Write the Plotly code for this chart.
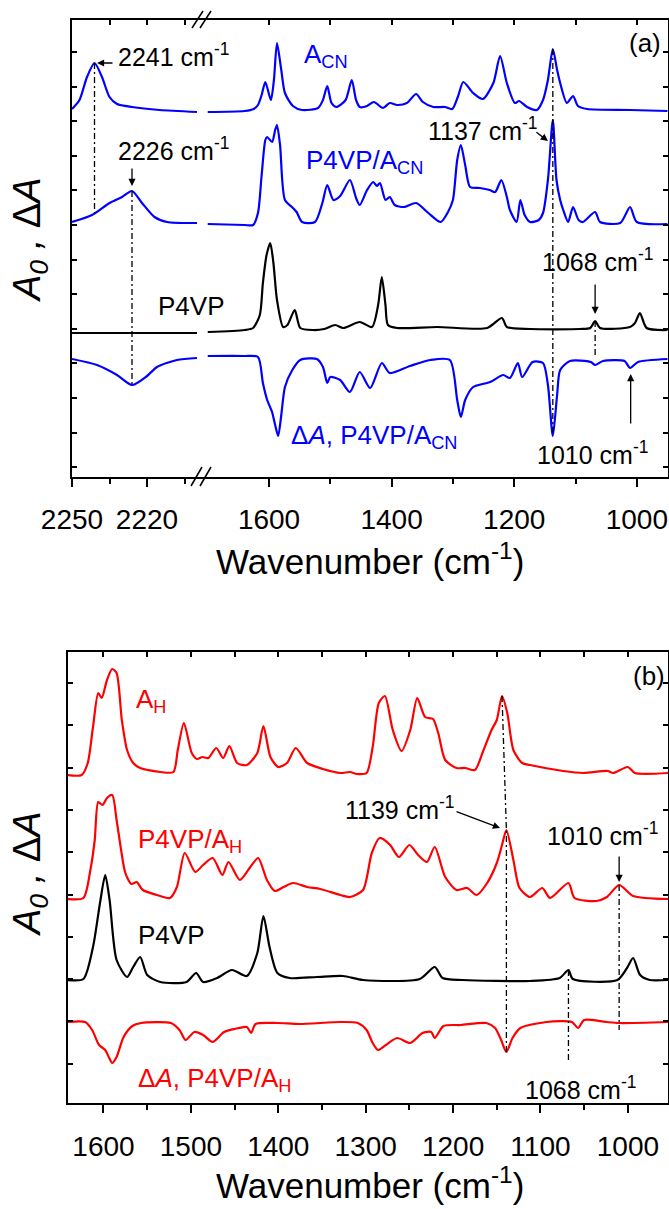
import numpy as np
import plotly.graph_objects as go

W, H = 669, 1209
FONT = "Liberation Sans, Arial, Helvetica, sans-serif"
BLUE = "#0000FF"
RED = "#FF0000"
BLACK = "#000000"

# ===================== Panel (a) =====================
# wavenumber (cm-1) / absorbance (a.u., relative to each spectrum's own baseline)
# --- 2250-2200 cm-1 window ---
ACN_HI_WN = [2250, 2247, 2244, 2241, 2238, 2235, 2232, 2226, 2215, 2200]
ACN_HI = [0.2, 1.1, 3.4, 4.8, 3.4, 1.4, 0.7, 0.4, 0.1, -0.1]
PACN_HI_WN = [2250, 2242, 2235, 2230, 2226, 2222, 2217, 2212, 2200]
PACN_HI = [0.1, 0.8, 2.0, 2.6, 3.2, 2.0, 0.6, 0.1, 0.0]
P4VPA_HI_WN = [2250, 2200]
P4VPA_HI = [0.0, 0.0]
DA_A_HI_WN = [2250, 2240, 2232, 2226, 2220, 2216, 2208, 2200]
DA_A_HI = [-0.1, -0.7, -1.7, -2.7, -1.8, -0.9, -0.2, 0.0]

# --- 1700-950 cm-1 window ---
ACN_WN = [1700, 1640, 1625, 1618, 1612, 1606, 1597, 1592, 1587, 1580,
          1574, 1561, 1546, 1520, 1512, 1505, 1498, 1490, 1475, 1465,
          1458, 1452, 1440, 1429, 1414, 1403, 1391, 1375, 1360, 1349,
          1332, 1313, 1301, 1292, 1283, 1267, 1251, 1234, 1223, 1212,
          1199, 1192, 1179, 1163, 1153, 1145, 1137, 1130, 1125, 1114,
          1104, 1096, 1081, 1011, 950]
ACN = [-0.1, 0.0, 0.2, 0.6, 1.6, 2.9, 1.1, 3.1, 6.8, 4.1,
       1.8, 0.5, 0.1, 0.3, 1.1, 2.5, 0.8, 0.4, 1.1, 3.1,
       1.1, 0.4, 0.5, 0.9, 0.3, 0.8, 0.6, 0.8, 1.7, 0.9,
       0.4, 0.4, 0.2, 1.4, 2.9, 1.8, 1.2, 2.8, 5.5, 2.8,
       0.8, 1.0, 0.4, 0.1, 1.1, 3.1, 6.2, 4.1, 2.8, 0.8,
       1.5, 0.5, 0.2, 0.1, 0.0]

PACN_WN = [1700, 1640, 1626, 1618, 1612, 1606, 1603, 1595, 1590, 1587,
           1582, 1574, 1561, 1555, 1546, 1525, 1513, 1505, 1495, 1484,
           1468, 1458, 1452, 1440, 1430, 1424, 1419, 1410, 1403, 1395,
           1380, 1360, 1340, 1320, 1308, 1300, 1293, 1287, 1280, 1272,
           1256, 1240, 1231, 1221, 1212, 1207, 1196, 1190, 1183, 1174,
           1160, 1153, 1145, 1137, 1131, 1125, 1120, 1112, 1104, 1095,
           1088, 1068, 1060, 1027, 1011, 1000, 950]
PACN = [-0.1, -0.2, -0.2, 1.0, 4.8, 8.3, 8.6, 8.1, 9.3, 9.8,
        7.8, 2.3, 1.5, 1.1, 0.1, 0.1, 2.0, 3.8, 2.3, 2.7,
        4.3, 2.5, 1.8, 3.3, 4.1, 3.7, 4.0, 2.3, 2.6, 1.8,
        1.6, 2.0, 1.0, 0.1, 1.1, 2.3, 6.3, 7.8, 5.8, 3.6,
        3.5, 3.3, 3.1, 4.3, 2.6, 1.3, 0.1, 2.3, 0.8, 0.1,
        0.3, 1.0, 4.3, 10.3, 4.3, 2.3, 1.3, 0.1, 1.6, 0.3,
        0.1, 1.1, 0.1, 0.0, 1.6, 0.1, -0.1]

P4VPA_WN = [1700, 1640, 1626, 1615, 1610, 1604, 1598, 1593, 1587, 1577,
            1570, 1558, 1549, 1528, 1510, 1492, 1479, 1452, 1432, 1422,
            1416, 1410, 1406, 1391, 1326, 1244, 1220, 1212, 1174, 1093,
            1076, 1068, 1060, 1011, 1003, 995, 984, 950]
P4VPA = [0.1, 0.3, 0.5, 1.8, 5.0, 7.8, 9.0, 7.1, 3.3, 0.6,
         0.8, 2.3, 0.5, 0.3, 0.4, 0.8, 0.5, 1.1, 0.6, 2.8,
         5.6, 2.8, 0.8, 0.5, 0.6, 0.5, 1.5, 0.6, 0.4, 0.4,
         0.5, 1.2, 0.5, 0.6, 1.0, 2.0, 0.5, 0.3]

DA_A_WN = [1700, 1640, 1618, 1610, 1603, 1595, 1590, 1585, 1580, 1574,
           1562, 1549, 1522, 1512, 1505, 1500, 1484, 1468, 1452, 1435,
           1416, 1403, 1370, 1337, 1305, 1293, 1287, 1280, 1267, 1239,
           1218, 1207, 1194, 1187, 1170, 1153, 1145, 1137, 1130, 1125,
           1109, 1075, 1068, 1055, 1020, 1011, 998, 950]
DA_A = [0.2, 0.2, 0.1, -2.5, -4.2, -5.4, -6.7, -7.8, -5.7, -2.9,
        -1.2, -0.2, -0.1, -0.9, -2.5, -1.9, -2.2, -3.4, -1.4, -3.0,
        -0.5, -1.5, -0.8, -0.2, -0.2, -4.2, -5.9, -4.2, -2.9, -2.4,
        -1.7, -2.0, -0.5, -1.9, -0.4, -0.5, -2.7, -7.8, -3.7, -1.2,
        -0.3, -0.4, -0.7, -0.3, -0.3, -1.0, -0.4, -0.1]

# vertical stacking offsets of the spectra, panel (a)
OFF_A = {"ACN": 36.6, "PACN": 25.4, "P4VP": 14.4, "DA": 11.9}

# ===================== Panel (b) =====================
AH_WN = [1641, 1625, 1618, 1612, 1606, 1602, 1596, 1590, 1585, 1579,
         1573, 1566, 1558, 1535, 1520, 1515, 1508, 1499, 1493, 1487,
         1480, 1471, 1463, 1456, 1447, 1436, 1424, 1417, 1409, 1400,
         1390, 1380, 1367, 1349, 1329, 1318, 1310, 1299, 1292, 1285,
         1278, 1269, 1259, 1249, 1241, 1232, 1223, 1217, 1209, 1196,
         1186, 1175, 1166, 1156, 1150, 1144, 1138, 1131, 1121, 1112,
         1074, 1051, 1023, 1017, 1000, 992, 954]
AH = [-0.2, -0.2, 1.0, 4.6, 8.0, 7.5, 9.3, 10.4, 10.0, 5.3,
      2.3, 1.0, 0.5, 0.1, 0.1, 2.3, 5.0, 2.0, 1.4, 1.6,
      1.5, 2.5, 1.5, 2.7, 1.0, 0.8, 2.0, 4.7, 1.6, 0.6,
      1.0, 2.5, 1.0, 0.4, 0.0, 0.1, -0.1, 0.0, 2.6, 7.0,
      7.7, 4.3, 2.2, 4.3, 7.5, 5.6, 5.4, 4.0, 1.3, 0.5,
      0.5, 0.3, 2.1, 4.3, 5.3, 7.7, 6.0, 2.3, 1.0, 0.8,
      0.2, 0.0, 0.2, 0.0, 0.6, 0.0, 0.0]

PAH_WN = [1641, 1623, 1615, 1610, 1606, 1601, 1596, 1590, 1585, 1580,
          1575, 1568, 1562, 1555, 1539, 1524, 1516, 1507, 1495, 1486,
          1475, 1464, 1457, 1444, 1432, 1423, 1413, 1404, 1394, 1383,
          1367, 1352, 1329, 1318, 1303, 1293, 1284, 1272, 1262, 1250,
          1240, 1230, 1221, 1209, 1196, 1184, 1173, 1161, 1150, 1144,
          1139, 1131, 1124, 1112, 1098, 1089, 1068, 1061, 1036, 1024,
          1010, 994, 954]
PAH = [0.0, 0.1, 2.9, 5.9, 9.7, 9.4, 10.1, 10.4, 7.9, 5.0,
       2.6, 1.5, 1.7, 0.9, 0.4, 0.1, 1.2, 4.6, 2.7, 3.4,
       4.1, 2.4, 3.7, 1.9, 3.2, 4.1, 1.9, 0.8, 1.2, 1.6,
       1.2, 1.0, 0.4, 0.2, 0.9, 4.6, 6.1, 5.4, 4.2, 5.4,
       4.4, 3.7, 5.2, 2.2, 0.9, 1.1, 0.4, 1.6, 3.6, 5.4,
       6.9, 3.9, 1.1, 0.2, 1.1, 0.1, 1.6, 0.1, -0.2, 0.2,
       1.4, 0.3, 0.0]

P4VPB_WN = [1641, 1623, 1612, 1604, 1598, 1593, 1585, 1573, 1566, 1558,
            1550, 1535, 1505, 1494, 1486, 1470, 1453, 1436, 1424, 1417,
            1410, 1401, 1387, 1356, 1326, 1303, 1238, 1221, 1212, 1189,
            1112, 1078, 1068, 1063, 1012, 1001, 994, 986, 975, 954]
P4VPB = [0.0, 0.1, 3.3, 7.7, 10.5, 8.0, 2.0, 0.3, 1.3, 2.3,
         0.5, -0.2, -0.2, 0.7, -0.2, 0.2, 1.0, 0.4, 2.7, 6.4,
         3.3, 0.7, 0.2, 0.3, 0.4, 0.0, 0.1, 1.3, 0.2, 0.0,
         -0.1, 0.2, 1.0, 0.1, 0.0, 1.2, 2.2, 0.5, 0.0, 0.0]

DA_B_WN = [1641, 1621, 1613, 1605, 1598, 1594, 1590, 1585, 1577, 1567,
           1557, 1523, 1513, 1506, 1496, 1486, 1475, 1462, 1450, 1436,
           1431, 1426, 1401, 1376, 1328, 1309, 1299, 1292, 1286, 1277,
           1264, 1249, 1235, 1225, 1221, 1211, 1191, 1162, 1152, 1145,
           1139, 1132, 1123, 1093, 1064, 1057, 1050, 1025, 1010, 954]
DA_B = [0.0, 0.0, -0.8, -2.3, -2.8, -3.5, -4.1, -3.5, -1.5, -0.4,
        -0.1, -0.1, -0.8, -1.8, -1.0, -1.3, -2.0, -1.0, -0.7, -0.5,
        -1.1, -0.2, -0.1, -0.2, 0.0, -0.1, -0.8, -2.1, -2.8, -2.3,
        -1.6, -2.1, -1.1, -1.0, -1.6, -0.4, -0.3, -0.1, -0.6, -1.8,
        -3.0, -1.6, -0.6, 0.0, 0.0, -0.6, 0.2, 0.0, -0.1, 0.0]

OFF_B = {"AH": 33.0, "PAH": 20.4, "P4VP": 12.3, "DA": 8.1}
DA_B_1068_LINE_END = 4.1   # lower end of the 1068 cm-1 guide line in (b)
DA_B_1010_LINE_END = 7.3   # lower end of the 1010 cm-1 guide line in (b)

# axis tick labels
TICKS_A_HI = [2250, 2220]
TICKS_A_LO = [1600, 1400, 1200, 1000]
TICKS_B = [1600, 1500, 1400, 1300, 1200, 1100, 1000]


def px(x):
    return x / W


def py(y):
    return 1 - y / H


def val(wn_list, v_list, wn, off):
    order = np.argsort(wn_list)
    return float(np.interp(wn, np.array(wn_list)[order], np.array(v_list)[order]) + off)


fig = go.Figure()


def curve(wn, v, off, color, xa, ya):
    fig.add_trace(go.Scatter(
        x=wn, y=[a + off for a in v], mode="lines", xaxis=xa, yaxis=ya,
        line=dict(color=color, width=2.2, shape="spline", smoothing=0.7),
        hoverinfo="skip", showlegend=False))


def guide(xs, ys, xa, ya):
    fig.add_trace(go.Scatter(
        x=xs, y=ys, mode="lines", xaxis=xa, yaxis=ya,
        line=dict(color=BLACK, width=1.3, dash="6px,3px,2px,3px"),
        hoverinfo="skip", showlegend=False))


# ---- panel (a) curves
curve(ACN_HI_WN, ACN_HI, OFF_A["ACN"], BLUE, "x", "y")
curve(PACN_HI_WN, PACN_HI, OFF_A["PACN"], BLUE, "x", "y")
curve(P4VPA_HI_WN, P4VPA_HI, OFF_A["P4VP"], BLACK, "x", "y")
curve(DA_A_HI_WN, DA_A_HI, OFF_A["DA"], BLUE, "x", "y")
curve(ACN_WN, ACN, OFF_A["ACN"], BLUE, "x2", "y")
curve(PACN_WN, PACN, OFF_A["PACN"], BLUE, "x2", "y")
curve(P4VPA_WN, P4VPA, OFF_A["P4VP"], BLACK, "x2", "y")
curve(DA_A_WN, DA_A, OFF_A["DA"], BLUE, "x2", "y")

# guide lines (a)
guide([2241, 2241], [val(ACN_HI_WN, ACN_HI, 2241, OFF_A["ACN"]),
                     val(PACN_HI_WN, PACN_HI, 2241, OFF_A["PACN"])], "x", "y")
guide([2226, 2226], [val(PACN_HI_WN, PACN_HI, 2226, OFF_A["PACN"]),
                     val(DA_A_HI_WN, DA_A_HI, 2226, OFF_A["DA"])], "x", "y")
guide([1137, 1137], [val(ACN_WN, ACN, 1137, OFF_A["ACN"]),
                     val(DA_A_WN, DA_A, 1137, OFF_A["DA"])], "x2", "y")
guide([1068, 1068], [val(P4VPA_WN, P4VPA, 1068, OFF_A["P4VP"]),
                     val(DA_A_WN, DA_A, 1068, OFF_A["DA"]) + 1.0], "x2", "y")

# ---- panel (b) curves
curve(AH_WN, AH, OFF_B["AH"], RED, "x5", "y3")
curve(PAH_WN, PAH, OFF_B["PAH"], RED, "x5", "y3")
curve(P4VPB_WN, P4VPB, OFF_B["P4VP"], BLACK, "x5", "y3")
curve(DA_B_WN, DA_B, OFF_B["DA"], RED, "x5", "y3")

guide([1144, 1139, 1139], [val(AH_WN, AH, 1144, OFF_B["AH"]),
                           val(PAH_WN, PAH, 1139, OFF_B["PAH"]),
                           val(DA_B_WN, DA_B, 1139, OFF_B["DA"])], "x5", "y3")
guide([1068, 1068], [val(P4VPB_WN, P4VPB, 1068, OFF_B["P4VP"]), DA_B_1068_LINE_END], "x5", "y3")
guide([1010, 1010], [val(PAH_WN, PAH, 1010, OFF_B["PAH"]), DA_B_1010_LINE_END], "x5", "y3")

# empty traces so that the mirror axes are drawn
for xa, ya in [("x3", "y"), ("x4", "y"), ("x2", "y2"), ("x6", "y3"), ("x5", "y4")]:
    fig.add_trace(go.Scatter(x=[None], y=[None], xaxis=xa, yaxis=ya,
                             showlegend=False, hoverinfo="skip"))

AXL = dict(showline=True, linecolor=BLACK, linewidth=1.5, showgrid=False,
           zeroline=False, tickcolor=BLACK, tickwidth=1.5, automargin=False,
           tickfont=dict(family=FONT, size=28, color=BLACK))

XA_HI = [2250, 2197.6]
XA_LO = [1707.7, 949.1]
XB = [1640.6, 954.1]
YA = [0, 45.7]
YB = [0, 45.1]

dom_a_y = [py(477), py(20)]
dom_b_y = [py(1103), py(652)]

layout = dict(
    width=W, height=H, margin=dict(l=0, r=0, t=0, b=0, autoexpand=False),
    paper_bgcolor="white", plot_bgcolor="white", showlegend=False,
    xaxis=dict(AXL, domain=[px(72), px(203)], range=XA_HI, anchor="y",
               tickmode="array", tickvals=TICKS_A_HI, ticks="outside", ticklen=8,
               ticklabelstandoff=9,
               minor=dict(tickmode="array", tickvals=[2235, 2205], ticks="outside",
                          ticklen=5, tickcolor=BLACK, tickwidth=1.5)),
    xaxis2=dict(AXL, domain=[px(203), px(668)], range=XA_LO, anchor="y",
                tickmode="array", tickvals=TICKS_A_LO, ticks="outside", ticklen=8,
                ticklabelstandoff=9,
                minor=dict(tickmode="array", tickvals=[1500, 1300, 1100], ticks="outside",
                           ticklen=5, tickcolor=BLACK, tickwidth=1.5)),
    xaxis3=dict(AXL, overlaying="x", side="top", anchor="y", range=XA_HI,
                tickmode="array", tickvals=[2250, 2235, 2220, 2205], ticks="inside",
                ticklen=5, showticklabels=False),
    xaxis4=dict(AXL, overlaying="x2", side="top", anchor="y", range=XA_LO,
                tickmode="array", tickvals=[1600, 1500, 1400, 1300, 1200, 1100, 1000],
                ticks="inside", ticklen=5, showticklabels=False),
    yaxis=dict(AXL, domain=dom_a_y, range=YA, anchor="x", ticks="inside",
               tick0=0.98, dtick=3.46, ticklen=5, showticklabels=False),
    yaxis2=dict(AXL, overlaying="y", side="right", anchor="x2", range=YA,
                ticks="inside", tick0=0.98, dtick=3.46, ticklen=5, showticklabels=False),
    xaxis5=dict(AXL, domain=[px(68), px(668)], range=XB, anchor="y3",
                tickmode="array", tickvals=TICKS_B, ticks="outside", ticklen=8,
                ticklabelstandoff=10,
                minor=dict(tickmode="array", tickvals=[1550, 1450, 1350, 1250, 1150, 1050],
                           ticks="outside", ticklen=5, tickcolor=BLACK, tickwidth=1.5)),
    xaxis6=dict(AXL, overlaying="x5", side="top", anchor="y3", range=XB,
                tickmode="array",
                tickvals=[1600, 1550, 1500, 1450, 1400, 1350, 1300, 1250, 1200, 1150, 1100, 1050, 1000],
                ticks="inside", ticklen=5, showticklabels=False),
    yaxis3=dict(AXL, domain=dom_b_y, range=YB, anchor="x5", ticks="inside",
                tick0=3.93, dtick=4.23, ticklen=5, showticklabels=False),
    yaxis4=dict(AXL, overlaying="y3", side="right", anchor="x5", range=YB,
                ticks="inside", tick0=3.93, dtick=4.23, ticklen=5, showticklabels=False),
)
fig.update_layout(**layout)


def txt(t, xp, yp, color=BLACK, size=25, xanchor="left", angle=0):
    return dict(text=t, x=px(xp), y=py(yp), xref="paper", yref="paper",
                showarrow=False, xanchor=xanchor, yanchor="middle", textangle=angle,
                font=dict(family=FONT, size=size, color=color))


def arrow(x, y, ax, ay, xref, yref):
    return dict(text="", x=x, y=y, xref=xref, yref=yref, ax=ax, ay=ay,
                showarrow=True, arrowhead=2, arrowsize=1.1, arrowwidth=1.3,
                arrowcolor=BLACK, standoff=0)


SUP = "cm<sup>-1</sup>"
YTITLE = "<i>A</i><sub><i>0</i></sub><i> , </i>Δ<i>A</i>"
anns = [
    # panel (a)
    txt("2241 " + SUP, 116, 55),
    txt("2226 " + SUP, 116, 149),
    txt("1137 " + SUP, 426, 129),
    txt("1068 " + SUP, 540, 260),
    txt("1010 " + SUP, 535, 453),
    txt("(a)", 627, 43, size=26),
    txt("A<sub>CN</sub>", 302, 56, BLUE, size=26),
    txt("P4VP/A<sub>CN</sub>", 304, 161, BLUE, size=26),
    txt("P4VP", 156, 306, size=26),
    txt("Δ<i>A</i>, P4VP/A<sub>CN</sub>", 289, 437, BLUE, size=26),
    txt(YTITLE, 30, 240, size=38, xanchor="center", angle=-90),
    txt("Wavenumber (" + SUP + ")", 370, 559, size=35, xanchor="center"),
    arrow(2240, OFF_A["ACN"] + 4.8, 17, 0, "x", "y"),
    arrow(2226, 29.1, 0, -19, "x", "y"),
    arrow(1145, 33.6, -13, -10, "x2", "y"),
    arrow(1068, 16.3, 0, -31, "x2", "y"),
    arrow(1010, 10.3, 0, 51, "x2", "y"),
    # panel (b)
    txt("(b)", 631, 676, size=26),
    txt("A<sub>H</sub>", 134, 700, RED, size=26),
    txt("P4VP/A<sub>H</sub>", 136, 840, RED, size=26),
    txt("P4VP", 136, 935, size=26),
    txt("Δ<i>A</i>, P4VP/A<sub>H</sub>", 136, 1079, RED, size=26),
    txt("1139 " + SUP, 343, 808),
    txt("1010 " + SUP, 545, 834),
    txt("1068 " + SUP, 523, 1088),
    txt(YTITLE, 30, 874, size=38, xanchor="center", angle=-90),
    txt("Wavenumber (" + SUP + ")", 370, 1183, size=35, xanchor="center"),
    arrow(1146.3, 27.5, -45, -17, "x5", "y3"),
    arrow(1010, 22.1, 0, -27, "x5", "y3"),
]
fig.update_layout(annotations=anns)

# axis-break marks "//" on top and bottom of panel (a)
shapes = []
for (x0, y0, x1, y1) in [(192, 28, 203, 11), (200, 28, 211, 11),
                         (191, 486, 202, 467), (200, 486, 211, 467)]:
    shapes.append(dict(type="line", xref="paper", yref="paper",
                       x0=px(x0), y0=py(y0), x1=px(x1), y1=py(y1),
                       line=dict(color=BLACK, width=1.5)))
fig.update_layout(shapes=shapes)

fig.write_html("out.html")
